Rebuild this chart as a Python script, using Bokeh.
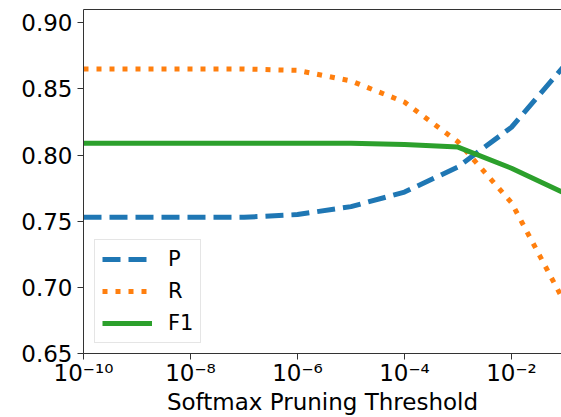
from bokeh.plotting import figure
from bokeh.models import (Range1d, FixedTicker, CustomJSTickFormatter, LogAxis,
                          Legend, LegendItem, PrintfTickFormatter)
from bokeh.embed import file_html
from bokeh.resources import INLINE

# ---- data ----
thresholds = [1e-10, 1e-9, 1e-8, 1e-7, 1e-6, 1e-5, 1e-4, 1e-3, 1e-2, 1e-1]
P = [0.753, 0.753, 0.753, 0.753, 0.755, 0.761, 0.772, 0.791, 0.821, 0.868]
R = [0.865, 0.865, 0.865, 0.865, 0.864, 0.856, 0.840, 0.810, 0.764, 0.688]
F1 = [0.809, 0.809, 0.809, 0.809, 0.809, 0.809, 0.808, 0.806, 0.790, 0.771]
x_ticks = [1e-10, 1e-8, 1e-6, 1e-4, 1e-2]
y_ticks = [0.65, 0.70, 0.75, 0.80, 0.85, 0.90]
series_names = ["P", "R", "F1"]
colors = ["#1f77b4", "#ff7f0e", "#2ca02c"]

FONT = "DejaVu Sans"

p = figure(width=561, height=417, x_axis_type="log",
           x_range=Range1d(1e-10, 10 ** -1.065), y_range=Range1d(0.65, 0.91),
           output_backend="svg", toolbar_location=None,
           min_border_left=83, min_border_top=9, min_border_right=0, min_border_bottom=62)
p.outline_line_color = None
p.xgrid.visible = False
p.ygrid.visible = False

r_p = p.line(thresholds, P, line_color=colors[0], line_width=5, line_dash="18 8")
r_r = p.line(thresholds, R, line_color=colors[1], line_width=5, line_dash="5 8")
r_f = p.line(thresholds, F1, line_color=colors[2], line_width=5)

# axes
xa = p.xaxis[0]
xa.ticker = FixedTicker(ticks=x_ticks, minor_ticks=[])
xa.formatter = CustomJSTickFormatter(code="""
const sup = {"-":"\u207b","0":"\u2070","1":"\u00b9","2":"\u00b2","3":"\u00b3","4":"\u2074",
             "5":"\u2075","6":"\u2076","7":"\u2077","8":"\u2078","9":"\u2079"};
const e = Math.round(Math.log10(tick)).toString();
return "10" + e.split("").map(c => sup[c]).join("");
""")
ya = p.yaxis[0]
ya.ticker = FixedTicker(ticks=y_ticks, minor_ticks=[])
ya.formatter = PrintfTickFormatter(format="%.2f")

for ax in (xa, ya):
    ax.axis_line_color = "#333333"
    ax.axis_line_width = 1
    ax.major_tick_line_color = "#333333"
    ax.major_tick_in = 0
    ax.major_tick_out = 6
    ax.minor_tick_line_color = None
    ax.major_label_text_font = FONT
    ax.major_label_text_font_size = "23px"
    ax.major_label_text_color = "black"
ya.major_label_standoff = 5
xa.major_label_standoff = 0

xa.axis_label = "Softmax Pruning Threshold"
xa.axis_label_text_font = FONT
xa.axis_label_text_font_size = "23px"
xa.axis_label_text_font_style = "normal"
xa.axis_label_text_color = "black"
xa.axis_label_standoff = 0

top = LogAxis(ticker=FixedTicker(ticks=[], minor_ticks=[]),
              axis_line_color="#333333", major_tick_line_color=None,
              minor_tick_line_color=None, major_label_standoff=0,
              major_tick_out=0, minor_tick_out=0)
p.add_layout(top, "above")

legend = Legend(items=[LegendItem(label=series_names[0], renderers=[r_p]),
                       LegendItem(label=series_names[1], renderers=[r_r]),
                       LegendItem(label=series_names[2], renderers=[r_f])],
                location=(11, 10), glyph_width=50, glyph_height=20, label_height=20,
                label_standoff=16, spacing=8, padding=7,
                label_text_font=FONT, label_text_font_size="21px",
                label_text_color="black",
                border_line_color="#cccccc", border_line_width=1,
                background_fill_alpha=0.8)
p.add_layout(legend, "center")

open("out.html", "w").write(file_html(p, INLINE))
